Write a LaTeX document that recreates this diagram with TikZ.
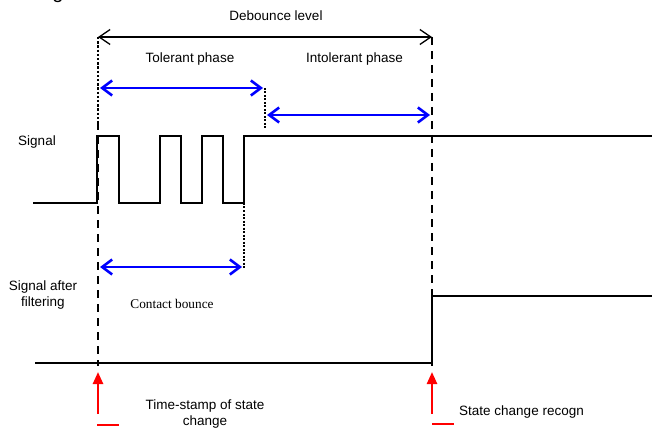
\documentclass[tikz,border=0pt]{standalone}
\usepackage{fontspec}
\setmainfont{Liberation Sans}
\newfontfamily\timesf{Liberation Serif}
\usetikzlibrary{arrows.meta}
\begin{document}
\begin{tikzpicture}[x=1pt,y=-1pt,
  lbl/.style={font=\fontsize{13.5}{15}\selectfont, inner sep=0pt, text height=9.7pt, text depth=2.8pt, align=center},
  serlbl/.style={font=\timesf\fontsize{13.3}{15}\selectfont, inner sep=0pt, text height=9.2pt, text depth=2.8pt},
  sig/.style={line width=1.4pt, black, line join=miter},
  blu/.style={line width=2.8pt, blue, {Straight Barb[length=10pt,width=15pt,line width=2.6pt]}-{Straight Barb[length=10pt,width=15pt,line width=2.6pt]}},
  blk/.style={line width=1.3pt, black, {Straight Barb[length=11pt,width=15pt,line width=1.3pt]}-{Straight Barb[length=11pt,width=15pt,line width=1.3pt]}},
  dashv/.style={line width=1.9pt, black, dash pattern=on 8pt off 6pt},
  dotv/.style={line width=2.8pt, black, line cap=butt, dash pattern=on 2.4pt off 1.8pt},
  dots/.style={line width=2.5pt, black, line cap=butt, dash pattern=on 2pt off 1.5pt},
  redarr/.style={line width=2.4pt, red, -{Triangle[length=12pt,width=10pt]}},
  redbar/.style={line width=1.6pt, red}
]
\useasboundingbox (0,0) rectangle (652,430);
\clip (0,0) rectangle (652,430);
% cut title fragment
\node[font=\fontsize{20}{22}\selectfont, inner sep=0pt, anchor=base] (ttl) at (58,-1.5) {g};

% key coordinates
\coordinate (L) at (98,37);
\coordinate (R) at (432,37);
\coordinate (Lmid) at (98,122);
\coordinate (Lbot) at (98,366);
\coordinate (Rbot) at (432,366);

% Debounce level
\node[lbl] (deb) at (276,17) {Debounce level};
\draw[blk] (L) -- (R);

% vertical markers
\draw[dotv] (L) -- (Lmid);
\draw[dashv] (Lmid) -- (Lbot);
\draw[dashv] (R) -- (Rbot);

% tolerant / intolerant phases
\node[lbl] (tol) at (190,59) {Tolerant phase};
\node[lbl] (intol) at (354.5,59) {Intolerant phase};
\coordinate (t1) at (100,88);
\coordinate (t2) at (263,88);
\coordinate (d1) at (265,88);
\coordinate (d2) at (265,128);
\coordinate (i1) at (267,115);
\coordinate (i2) at (430,115);
\draw[blu] (t1) -- (t2);
\draw[dots] (d1) -- (d2);
\draw[blu] (i1) -- (i2);

% signal
\node[lbl] (sigl) at (37,142) {Signal};
\coordinate (s0) at (33,203);
\coordinate (send) at (652,136);
\draw[sig] (s0) -- (97,203) -- (97,136) -- (119,136) -- (119,203)
  -- (160,203) -- (160,136) -- (181,136) -- (181,203)
  -- (202,203) -- (202,136) -- (223,136) -- (223,203)
  -- (244,203) -- (244,136) -- (send);

% contact bounce
\coordinate (c1) at (244,203);
\coordinate (c2) at (244,268);
\draw[dots] (c1) -- (c2);
\coordinate (b1) at (100,267);
\coordinate (b2) at (242,267);
\draw[blu] (b1) -- (b2);
\node[serlbl] (cb) at (172,305) {Contact bounce};

% filtered signal
\node[lbl, text height=, text depth=, font=\fontsize{13.5}{16.5}\selectfont] (fl) at (43,295) {Signal after\\filtering};
\coordinate (f0) at (35,363);
\coordinate (fend) at (652,296);
\draw[sig] (f0) -- (432,363) -- (432,296) -- (fend);

% red markers
\coordinate (ra1) at (98,414);
\coordinate (ra2) at (98,372);
\draw[redarr] (ra1) -- (ra2);
\coordinate (rb1) at (97,425);
\coordinate (rb2) at (119,425);
\draw[redbar] (rb1) -- (rb2);
\coordinate (rc1) at (432,414);
\coordinate (rc2) at (432,372);
\draw[redarr] (rc1) -- (rc2);
\coordinate (rd1) at (432,424);
\coordinate (rd2) at (454,424);
\draw[redbar] (rd1) -- (rd2);

\node[lbl, text height=, text depth=, font=\fontsize{13.5}{16}\selectfont] (ts) at (205,414) {Time-stamp of state\\change};
\node[lbl] (scr) at (521.5,412) {State change recogn};
\end{tikzpicture}
\end{document}
